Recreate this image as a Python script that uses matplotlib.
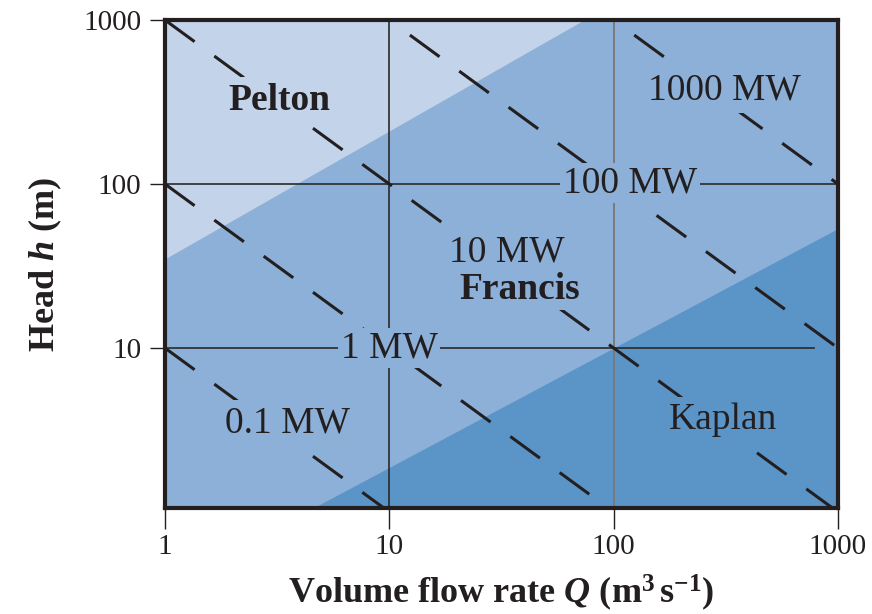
import numpy as np
import matplotlib
matplotlib.use("Agg")
import matplotlib.pyplot as plt

plt.rcParams['font.family'] = ['Liberation Serif', 'DejaVu Serif']
plt.rcParams['mathtext.fontset'] = 'custom'
plt.rcParams['mathtext.rm'] = 'Liberation Serif:bold'
plt.rcParams['mathtext.it'] = 'Liberation Serif:bold:italic'
plt.rcParams['mathtext.bf'] = 'Liberation Serif:bold'

# data
x_ticks = [1, 10, 100, 1000]
x_ticklabels = ['1', '10', '100', '1000']
y_ticks = [10, 100, 1000]
y_ticklabels = ['10', '100', '1000']

# power lines: Q*h product for each power level
power_labels = ['0.1 MW', '1 MW', '10 MW', '100 MW', '1000 MW']
power_qh = [10, 100, 1000, 1e4, 1e5]

# turbine region boundaries (end points at Q = 1 and Q = 1000)
boundary_q = [1, 1000]
pelton_h = [35, 7650]
kaplan_h = [0.35, 53.6]

c_pelton = '#c3d3e9'
c_francis = '#8db0d8'
c_kaplan = '#5b95c8'
c_ink = '#231f20'

fig = plt.figure(figsize=(8.72, 6.14), dpi=100)
ax = fig.add_axes([0.1892, 0.1726, 0.7718, 0.7948])
ax.set_xscale('log')
ax.set_yscale('log')
ax.set_xlim(1, 1000)
ax.set_ylim(1.058, 1000)
ax.set_facecolor(c_francis)

ax.fill_between(boundary_q, pelton_h, [1e5, 1e5], color=c_pelton, lw=0, zorder=0.5)
ax.fill_between(boundary_q, [0.1, 0.1], kaplan_h, color=c_kaplan, lw=0, zorder=0.5)

# reference grid lines
ax.axvline(10, color='#2a2a2a', lw=1.2, zorder=1)
ax.axvline(100, color='#7a7a7a', lw=1.4, zorder=1)
ax.axhline(100, color='#2a2a2a', lw=1.2, zorder=1)
ax.axhline(10, xmax=0.965, color='#2a2a2a', lw=1.2, zorder=1)

q = np.array([1.0, 1000.0])
for qh in power_qh:
    ax.plot(q, qh / q, color=c_ink, lw=2.2, linestyle=(0, (12, 8)),
            solid_capstyle='butt', dash_capstyle='butt', zorder=2)


def label(x, y, s, fc, bold=False, pad=4):
    ax.text(x, y, s, fontsize=27, color=c_ink, ha='center', va='center', zorder=4,
            fontweight='bold' if bold else 'normal',
            bbox=dict(facecolor=fc, edgecolor='none', pad=pad))


label(3.25, 325, 'Pelton', c_pelton, bold=True)
label(312, 374, '1000 MW', c_francis)
label(118, 101, '100 MW', c_francis, pad=2)
label(33.4, 38.5, '10 MW', c_francis, pad=2)
label(38.1, 22.6, 'Francis', c_francis, bold=True, pad=2)
label(10.0, 10.0, '1 MW', c_francis, pad=2)
label(3.53, 3.49, '0.1 MW', c_francis)
label(306, 3.64, 'Kaplan', c_kaplan)

ax.set_xticks(x_ticks)
ax.set_xticklabels(x_ticklabels)
ax.set_yticks(y_ticks)
ax.set_yticklabels(y_ticklabels)
ax.minorticks_off()
ax.tick_params(axis='x', direction='out', length=15, width=1, pad=4, labelsize=21, colors=c_ink)
ax.tick_params(axis='y', direction='out', length=11, width=1, pad=6, labelsize=21, colors=c_ink)

for s in ax.spines.values():
    s.set_linewidth(3)
    s.set_color(c_ink)
    s.set_zorder(5)

ax.set_xlabel(r'Volume flow rate $Q$ $\mathrm{(m^3\,s^{-1})}$', fontsize=26,
              fontweight='bold', color=c_ink, labelpad=9)
ax.set_ylabel(r'Head $h$ (m)', fontsize=26, fontweight='bold', color=c_ink, labelpad=14)

fig.savefig('out.png', dpi=100)
